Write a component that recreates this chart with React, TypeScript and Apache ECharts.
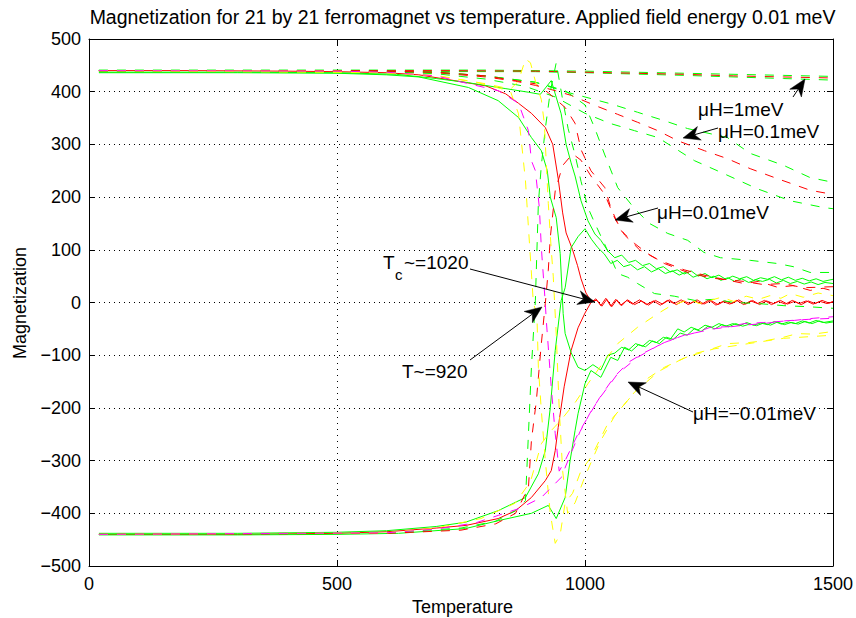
import React, { useEffect, useRef } from 'react';
import * as echarts from 'echarts';

const FONT = '"Liberation Sans", Arial, Helvetica, sans-serif';
const RED = '#ff0000';
const GREEN = '#00ff00';
const YELLOW = '#ffff00';
const MAGENTA = '#ff00ff';

const xTicks = [0, 500, 1000, 1500];
const yTicks = [-500, -400, -300, -200, -100, 0, 100, 200, 300, 400, 500];

// ---- solid curves ----
const redSolidUp = [[20,440],[200,440],[400,439],[500,438],[600,436],[665,432],[750,419],[800,411],[840,396],[866,378],[892,359],[920,332],[935,300],[946,235],[955,170],[962,132],[975,100],[985,70],[992,45],[1002,18],[1012,3],[1024,4],[1034,-7],[1044,6],[1054,-8],[1064,5],[1074,-6],[1084,4],[1096,-3],[1110,5],[1124,-4],[1138,3],[1152,-5],[1166,4],[1180,-2],[1194,5],[1208,-4],[1222,3],[1236,-3],[1250,5],[1264,-5],[1278,2],[1292,-3],[1306,4],[1320,-4],[1334,3],[1348,-2],[1362,4],[1376,-4],[1390,2],[1404,-3],[1418,4],[1432,-2],[1446,3],[1460,-3],[1474,2],[1488,-2],[1500,1]];
const redSolidDown = [[20,-440],[300,-440],[500,-438],[600,-435],[700,-428],[760,-423],[825,-410],[860,-395],[892,-370],[920,-338],[932,-319],[940,-281],[946,-237],[958,-160],[972,-91],[986,-48],[1000,-20],[1012,0],[1022,7],[1032,-6],[1042,8],[1052,-7],[1062,6],[1072,-5],[1086,5],[1100,-4],[1114,3],[1128,-5],[1142,4],[1156,-3],[1170,5],[1184,-4],[1198,3],[1212,-2],[1226,5],[1240,-3],[1254,4],[1268,-4],[1282,3],[1296,-2],[1310,5],[1324,-3],[1338,4],[1352,-4],[1366,3],[1380,-2],[1394,4],[1408,-3],[1422,2],[1436,-4],[1450,3],[1464,-2],[1478,4],[1492,-1],[1500,2]];
const greenSolidPP = [[20,437],[300,437],[500,436],[620,433],[700,425],[765,417],[839,406],[886,399],[910,395],[932,421],[952,358],[962,300],[972,265],[980,240],[992,193],[1006,155],[1020,130],[1032,118],[1046,98],[1060,85],[1074,90],[1088,76],[1102,80],[1116,70],[1130,74],[1144,64],[1158,68],[1172,58],[1186,62],[1200,54],[1214,60],[1228,50],[1242,55],[1256,47],[1270,52],[1284,44],[1298,50],[1312,45],[1326,49],[1340,42],[1354,47],[1368,44],[1382,49],[1396,43],[1410,48],[1424,42],[1438,46],[1452,41],[1466,45],[1480,40],[1500,44]];
const greenSolidMP = [[20,-438],[300,-438],[500,-436],[600,-433],[700,-425],[759,-417],[825,-395],[880,-370],[906,-325],[920,-281],[930,-200],[940,-91],[952,4],[960,28],[972,104],[986,125],[1000,140],[1013,120],[1026,104],[1039,92],[1052,74],[1065,80],[1078,68],[1092,72],[1106,62],[1120,68],[1134,58],[1148,64],[1162,55],[1176,60],[1190,52],[1204,58],[1218,48],[1232,53],[1246,45],[1260,50],[1274,42],[1288,47],[1302,40],[1316,45],[1330,38],[1344,43],[1358,40],[1372,44],[1386,37],[1400,42],[1414,36],[1428,40],[1442,35],[1456,39],[1470,34],[1484,38],[1500,36]];
const greenSolidPM = [[20,436],[300,436],[500,435],[600,432],[665,428],[765,408],[825,383],[866,351],[892,313],[912,288],[924,250],[930,200],[942,161],[950,93],[956,-21],[960,-59],[972,-95],[986,-123],[1000,-129],[1016,-118],[1032,-128],[1046,-100],[1060,-96],[1074,-85],[1088,-90],[1102,-78],[1116,-83],[1130,-72],[1144,-76],[1158,-66],[1172,-70],[1187,-50],[1200,-56],[1214,-47],[1228,-52],[1242,-43],[1256,-47],[1270,-40],[1284,-45],[1298,-40],[1312,-44],[1326,-38],[1340,-43],[1354,-39],[1368,-42],[1382,-36],[1396,-41],[1410,-37],[1424,-40],[1438,-35],[1452,-39],[1466,-34],[1480,-38],[1500,-35]];
const greenSolidMM = [[20,-441],[300,-441],[500,-440],[624,-438],[759,-429],[825,-414],[892,-400],[926,-385],[942,-410],[960,-370],[970,-300],[980,-243],[986,-211],[1000,-154],[1012,-129],[1032,-142],[1052,-104],[1066,-110],[1080,-85],[1094,-92],[1108,-80],[1122,-84],[1136,-73],[1150,-78],[1164,-66],[1178,-70],[1192,-58],[1206,-62],[1220,-50],[1234,-55],[1248,-45],[1262,-50],[1276,-42],[1290,-46],[1304,-40],[1318,-45],[1332,-41],[1346,-44],[1360,-39],[1374,-43],[1388,-37],[1402,-42],[1416,-38],[1430,-41],[1444,-36],[1458,-40],[1472,-35],[1486,-39],[1500,-37]];

// ---- dashed curves ----
const red1meV = [[20,440],[700,440],[900,439],[1000,437],[1100,435],[1200,433],[1300,430],[1400,428],[1500,426]];
const green1meVa = [[20,441],[800,441],[1000,439],[1200,435],[1400,431],[1500,429]];
const green1meVb = [[20,439],[900,438],[1000,436],[1200,431],[1400,425],[1500,422]];
const red01meV = [[20,440],[600,439],[700,436],[800,428],[860,420],[900,412],[940,402],[972,393],[1020,374],[1066,357],[1106,342],[1147,326],[1187,307],[1241,288],[1287,273],[1333,254],[1388,235],[1454,213],[1500,205]];
const green01meVa = [[20,440],[600,439],[700,437],[800,430],[900,418],[960,400],[1000,390],[1052,377],[1106,361],[1160,345],[1207,330],[1287,313],[1333,283],[1401,260],[1454,237],[1500,228]];
const green01meVb = [[20,440],[600,438],[700,434],[800,424],[880,410],[940,390],[1000,359],[1050,340],[1100,326],[1147,313],[1221,269],[1267,250],[1347,216],[1414,193],[1482,180],[1500,178]];
const red001Up = [[20,440],[600,439],[700,437],[800,430],[900,415],[926,398],[960,370],[980,340],[992,290],[1012,250],[1040,218],[1052,180],[1072,137],[1100,112],[1126,93],[1160,74],[1213,55],[1253,47],[1290,42],[1321,36],[1350,40],[1388,29],[1420,32],[1454,23],[1480,27],[1500,22]];
const red001Flip = [[20,-440],[600,-438],[750,-432],[820,-420],[860,-400],[886,-351],[892,-262],[902,-186],[912,-78],[920,-2],[926,61],[930,123],[940,212],[955,260],[975,282],[992,270],[1012,240],[1040,205],[1060,160],[1080,128],[1110,100],[1150,80],[1200,62],[1240,52],[1280,44],[1320,40],[1360,34],[1400,36],[1440,28],[1500,30]];
const green001Up = [[20,440],[700,437],[800,430],[900,418],[960,402],[1000,375],[1020,330],[1040,280],[1066,218],[1100,178],[1130,150],[1167,131],[1207,118],[1240,95],[1273,85],[1333,80],[1388,74],[1420,68],[1454,57],[1500,57]];
const greenFlip = [[20,-440],[600,-437],[750,-428],[820,-415],[860,-395],[880,-376],[886,-249],[892,-123],[900,4],[906,188],[912,260],[920,330],[930,400],[942,455],[954,390],[966,330],[980,280],[992,230],[1006,180],[1020,150],[1040,110],[1066,55],[1086,48],[1106,36],[1140,17],[1180,12],[1221,4],[1260,6],[1301,0],[1350,-2],[1401,-6],[1450,-8],[1500,-11]];
const magentaUp = [[20,440],[500,439],[600,437],[700,430],[739,421],[825,402],[866,378],[886,326],[892,269],[900,250],[908,180],[912,104],[920,-2],[922,-34],[932,-161],[940,-249],[948,-320],[960,-300],[986,-249],[1026,-186],[1066,-135],[1106,-104],[1147,-82],[1187,-66],[1220,-58],[1253,-47],[1290,-46],[1321,-40],[1360,-38],[1422,-34],[1460,-30],[1500,-27]];
const magentaDown = [[20,-440],[600,-437],[700,-430],[780,-418],[825,-404],[870,-390],[912,-370],[952,-332],[970,-290],[990,-245],[1010,-210],[1030,-180],[1060,-140],[1090,-112],[1120,-95],[1160,-76],[1200,-62],[1260,-50],[1320,-43],[1360,-40],[1400,-35],[1450,-32],[1500,-30]];
const yellowUpA = [[20,440],[500,439],[600,436],[700,430],[780,418],[830,406],[850,400],[866,358],[880,231],[886,142],[896,-2],[903,-21],[906,-123],[912,-205],[920,-300],[930,-400],[940,-457],[950,-440],[960,-380],[975,-362],[992,-319],[1012,-294],[1046,-230],[1086,-186],[1120,-148],[1160,-123],[1190,-110],[1221,-97],[1250,-90],[1287,-78],[1330,-76],[1367,-72],[1400,-66],[1428,-59],[1460,-60],[1500,-55]];
const yellowUpB = [[20,440],[600,436],[700,431],[800,415],[850,405],[866,420],[880,462],[890,455],[900,420],[912,385],[918,340],[926,188],[932,100],[936,50],[942,-60],[948,-200],[955,-320],[965,-400],[980,-380],[1000,-330],[1030,-265],[1060,-215],[1100,-170],[1150,-130],[1200,-105],[1260,-88],[1330,-78],[1400,-68],[1500,-62]];
const yellowDown = [[20,-440],[600,-437],[700,-428],[790,-410],[859,-381],[890,-340],[912,-268],[930,-245],[950,-225],[980,-190],[1006,-154],[1040,-110],[1066,-78],[1106,-47],[1147,-21],[1170,-8],[1187,-2],[1210,6],[1230,-2],[1253,4],[1275,10],[1300,2],[1325,12],[1350,6],[1373,13],[1395,8],[1414,17],[1440,10],[1470,18],[1500,13]];

const seriesDefs: [string, number[][], string, boolean][] = [
  ['redSolidUp', redSolidUp, RED, false],
  ['redSolidDown', redSolidDown, RED, false],
  ['greenSolidPP', greenSolidPP, GREEN, false],
  ['greenSolidMP', greenSolidMP, GREEN, false],
  ['greenSolidPM', greenSolidPM, GREEN, false],
  ['greenSolidMM', greenSolidMM, GREEN, false],
  ['green1meVa', green1meVa, GREEN, true],
  ['green1meVb', green1meVb, GREEN, true],
  ['red1meV', red1meV, RED, true],
  ['green01meVa', green01meVa, GREEN, true],
  ['green01meVb', green01meVb, GREEN, true],
  ['red01meV', red01meV, RED, true],
  ['green001Up', green001Up, GREEN, true],
  ['greenFlip', greenFlip, GREEN, true],
  ['red001Up', red001Up, RED, true],
  ['red001Flip', red001Flip, RED, true],
  ['yellowDown', yellowDown, YELLOW, true],
  ['yellowUpB', yellowUpB, YELLOW, true],
  ['yellowUpA', yellowUpA, YELLOW, true],
  ['magentaDown', magentaDown, MAGENTA, true],
  ['magentaUp', magentaUp, MAGENTA, true],
];

function arrow(x1: number, y1: number, x2: number, y2: number) {
  const dx = x2 - x1, dy = y2 - y1;
  const L = Math.hypot(dx, dy);
  const ux = dx / L, uy = dy / L;
  const px = -uy, py = ux;
  const hl = 17, hw = 7, nb = 12;
  const bx = x2 - ux * hl, by = y2 - uy * hl;
  const nx = x2 - ux * nb, ny = y2 - uy * nb;
  return [
    { type: 'line', shape: { x1, y1, x2: nx, y2: ny }, style: { stroke: '#000', lineWidth: 1 }, z: 100 },
    {
      type: 'polygon',
      shape: { points: [[x2, y2], [bx + px * hw, by + py * hw], [nx, ny], [bx - px * hw, by - py * hw]] },
      style: { fill: '#000', stroke: '#000', lineWidth: 0.5 },
      z: 100,
    },
  ];
}

function label(text: string, x: number, y: number, size = 19) {
  return {
    type: 'text', x, y, z: 100,
    style: { text, font: `${size}px ${FONT}`, fill: '#000', align: 'left', verticalAlign: 'middle' },
  };
}

const fmt = (v: number) => (v < 0 ? '\u2212' + Math.abs(v) : String(v));

export default function App() {
  const ref = useRef<HTMLDivElement>(null);
  useEffect(() => {
    const chart = echarts.init(ref.current!, null, { renderer: 'svg' });
    const axisCommon = {
      type: 'value' as const,
      axisLine: { show: true, onZero: false, lineStyle: { color: '#000', width: 1 } },
      axisTick: { show: true, inside: true, length: 6, lineStyle: { color: '#000' } },
    };
    const option = {
      animation: false,
      backgroundColor: '#fff',
      grid: { left: 89, right: 20, top: 39, bottom: 52, containLabel: false },
      xAxis: [
        {
          ...axisCommon, min: xTicks[0], max: xTicks[xTicks.length - 1], interval: 500, position: 'bottom',
          axisLabel: { color: '#000', fontSize: 18, fontFamily: FONT, margin: 9, formatter: fmt },
          splitLine: { show: true, lineStyle: { color: '#000', width: 1, type: [1, 5] } },
        },
        {
          ...axisCommon, min: xTicks[0], max: xTicks[xTicks.length - 1], interval: 500, position: 'top',
          axisLabel: { show: false }, splitLine: { show: false },
        },
      ],
      yAxis: [
        {
          ...axisCommon, min: yTicks[0], max: yTicks[yTicks.length - 1], interval: 100, position: 'left',
          axisLabel: { color: '#000', fontSize: 18, fontFamily: FONT, margin: 8, formatter: fmt },
          splitLine: { show: true, lineStyle: { color: '#000', width: 1, type: [1, 4] } },
        },
        {
          ...axisCommon, min: yTicks[0], max: yTicks[yTicks.length - 1], interval: 100, position: 'right',
          axisLabel: { show: false }, splitLine: { show: false },
        },
      ],
      series: seriesDefs.map(([name, data, color, dashed]) => ({
        name, type: 'line', data, xAxisIndex: 0, yAxisIndex: 0,
        showSymbol: false, symbol: 'none', silent: true,
        lineStyle: { color, width: 1, type: dashed ? [9, 9] : 'solid' },
      })),
      graphic: [
        {
          type: 'text', x: 462.5, y: 17, z: 100,
          style: { text: 'Magnetization for 21 by 21 ferromagnet vs temperature. Applied field energy 0.01 meV', font: `19.5px ${FONT}`, fill: '#000', align: 'center', verticalAlign: 'middle' },
        },
        {
          type: 'text', x: 462.5, y: 607, z: 100,
          style: { text: 'Temperature', font: `18px ${FONT}`, fill: '#000', align: 'center', verticalAlign: 'middle' },
        },
        {
          type: 'text', x: 20, y: 303, rotation: Math.PI / 2, z: 100,
          style: { text: 'Magnetization', font: `18px ${FONT}`, fill: '#000', align: 'center', verticalAlign: 'middle' },
        },
        label('\u03bcH=1meV', 698, 109),
        label('\u03bcH=0.1meV', 718, 131),
        label('\u03bcH=0.01meV', 657, 212),
        label('\u03bcH=\u22120.01meV', 693, 413),
        label('T', 383, 262),
        label('c', 395, 274, 15),
        label('~=1020', 404, 262),
        label('T~=920', 402, 371),
        ...arrow(793, 97, 805, 79),
        ...arrow(718, 128, 683, 138),
        ...arrow(658, 208, 615, 220),
        ...arrow(470, 269, 595, 302),
        ...arrow(470, 360, 542, 307),
        ...arrow(693, 412, 628, 382),
      ],
    };
    chart.setOption(option as any);
    return () => chart.dispose();
  }, []);
  return <div ref={ref} style={{ position: 'fixed', left: 0, top: 0, width: 856, height: 618, background: '#fff' }} />;
}
